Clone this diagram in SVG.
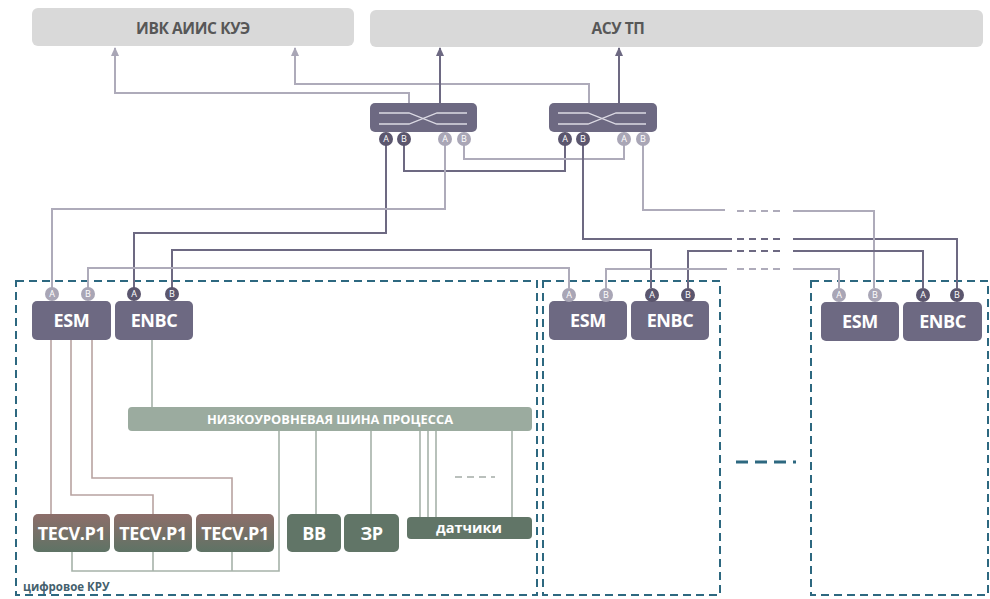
<svg xmlns="http://www.w3.org/2000/svg" width="990" height="599" viewBox="0 0 990 599">
<defs>
<marker id="arL" viewBox="0 0 10 10" refX="9" refY="5" markerWidth="9" markerHeight="9" markerUnits="userSpaceOnUse" orient="auto"><path d="M0,0.5 L10,5 L0,9.5 z" fill="#a9a6b6"/></marker>
<marker id="arD" viewBox="0 0 10 10" refX="9" refY="5" markerWidth="9" markerHeight="9" markerUnits="userSpaceOnUse" orient="auto"><path d="M0,0.5 L10,5 L0,9.5 z" fill="#6d6982"/></marker>
<linearGradient id="gT" x1="0" y1="0" x2="0" y2="1"><stop offset="0" stop-color="#8d6e6a"/><stop offset="1" stop-color="#5e7365"/></linearGradient>
<style>
text{font-family:"Open Sans","Liberation Sans",sans-serif;font-weight:bold;text-anchor:middle}
.hdr{fill:#d9d9d9}
.hdrt{fill:#575757;font-size:15.5px;letter-spacing:-0.4px}
.dev{fill:#6d6982}
.devt{fill:#ffffff;font-size:18px;letter-spacing:-0.4px}
.pd{fill:#5b566e}
.pl{fill:#a9a6b6}
.pt{fill:#ffffff;font-size:9px;font-weight:normal}
.sw{fill:none;stroke:#dcdae4;stroke-width:1.3}
.grn{fill:#617567}
.bus{fill:#9bab9f}
.box{fill:none;stroke:#2d6880;stroke-width:2;stroke-dasharray:8 5}
.d{fill:none;stroke:#6d6982;stroke-width:2}
.l{fill:none;stroke:#aeabba;stroke-width:2}
.dd{fill:none;stroke:#6d6982;stroke-width:2;stroke-dasharray:7 5}
.ld{fill:none;stroke:#aeabba;stroke-width:2;stroke-dasharray:7 5}
.r{fill:none;stroke:#b8a3a1;stroke-width:1.6}
.g{fill:none;stroke:#a6b2a9;stroke-width:1.6}
</style>
</defs>
<rect width="990" height="599" fill="#ffffff"/>

<g id="containers">
<rect class="box" x="16" y="281" width="521" height="314"/>
<rect class="box" x="543" y="281" width="177" height="314"/>
<rect class="box" x="811" y="281" width="177" height="314"/>
<text x="23" y="591" style="text-anchor:start;font-size:11.5px;fill:#44606d">цифровое КРУ</text>
<path d="M736,462 H796" fill="none" stroke="#2d6880" stroke-width="3" stroke-dasharray="12 7"/>
</g>

<g id="connectors">
<path class="l" d="M409,103 V93 H115 V48" marker-end="url(#arL)"/>
<path class="l" d="M589,103 V84 H295 V48" marker-end="url(#arL)"/>
<path class="d" d="M440,103 V48" marker-end="url(#arD)"/>
<path class="d" d="M619,103 V48" marker-end="url(#arD)"/>
<path class="d" d="M404,145 V171 H565 V145"/>
<path class="l" d="M464,145 V159 H624 V145"/>
<path class="d" d="M386,145 V233 H134 V288"/>
<path class="l" d="M445,145 V209 H52 V288"/>
<path class="d" d="M583,145 V239 H732"/>
<path class="dd" d="M737,239 H782"/>
<path class="d" d="M793,239 H957 V288"/>
<path class="l" d="M643,145 V210 H725"/>
<path class="ld" d="M737,211 H782"/>
<path class="l" d="M793,211 H874 V288"/>
<path class="d" d="M172,288 V250 H651 V288"/>
<path class="d" d="M688,288 V251 H732"/>
<path class="dd" d="M737,251 H782"/>
<path class="d" d="M793,251 H923 V288"/>
<path class="l" d="M88,288 V268 H569 V288"/>
<path class="l" d="M606,288 V269 H727"/>
<path class="ld" d="M737,269 H782"/>
<path class="l" d="M793,269 H839 V288"/>
<path class="r" d="M51,340 V514"/>
<path class="r" d="M71,340 V495 H153 V514"/>
<path class="r" d="M92,340 V478 H232 V514"/>
<path class="g" d="M152,340 V407"/>
<path class="g" d="M279,431 V571 H72 V552"/>
<path class="g" d="M153,552 V571"/>
<path class="g" d="M232,552 V571"/>
<path class="g" d="M316,431 V514"/>
<path class="g" d="M371,431 V514"/>
<path class="g" d="M420,431 V517"/>
<path class="g" d="M428,431 V517"/>
<path class="g" d="M436,431 V517"/>
<path class="g" d="M512,431 V517"/>
<path d="M455,477 H495" fill="none" stroke="#a4aca7" stroke-width="1.5" stroke-dasharray="7 5"/>
</g>

<g id="ivk"><rect class="hdr" x="32" y="8" width="322" height="38" rx="6"/><text class="hdrt" x="193" y="34">ИВК АИИС КУЭ</text></g>
<g id="asutp"><rect class="hdr" x="370" y="10" width="613" height="37" rx="6"/><text class="hdrt" x="618" y="34">АСУ ТП</text></g>

<g id="switch1">
<rect class="dev" x="370" y="103" width="107" height="29" rx="5"/>
<path class="sw" d="M379,113 H409 L437,124 H467"/><path class="sw" d="M379,124 H409 L437,113 H467"/>
<circle class="pd" cx="386" cy="139" r="7"/><text class="pt" x="386" y="142.2">A</text>
<circle class="pd" cx="404" cy="139" r="7"/><text class="pt" x="404" y="142.2">B</text>
<circle class="pl" cx="445" cy="139" r="7"/><text class="pt" x="445" y="142.2">A</text>
<circle class="pl" cx="464" cy="139" r="7"/><text class="pt" x="464" y="142.2">B</text>
</g>
<g id="switch2">
<rect class="dev" x="549" y="103" width="108" height="29" rx="5"/>
<path class="sw" d="M558,113 H588 L616,124 H646"/><path class="sw" d="M558,124 H588 L616,113 H646"/>
<circle class="pd" cx="565" cy="139" r="7"/><text class="pt" x="565" y="142.2">A</text>
<circle class="pd" cx="583" cy="139" r="7"/><text class="pt" x="583" y="142.2">B</text>
<circle class="pl" cx="624" cy="139" r="7"/><text class="pt" x="624" y="142.2">A</text>
<circle class="pl" cx="643" cy="139" r="7"/><text class="pt" x="643" y="142.2">B</text>
</g>

<g id="esm1">
<rect class="dev" x="32" y="301" width="79" height="39" rx="5"/><text class="devt" x="71.5" y="327">ESM</text>
<circle class="pl" cx="52" cy="294" r="7"/><text class="pt" x="52" y="297.2">A</text>
<circle class="pl" cx="88" cy="294" r="7"/><text class="pt" x="88" y="297.2">B</text>
</g>
<g id="enbc1">
<rect class="dev" x="115" y="301" width="78" height="39" rx="5"/><text class="devt" x="154" y="327">ENBC</text>
<circle class="pd" cx="134" cy="294" r="7"/><text class="pt" x="134" y="297.2">A</text>
<circle class="pd" cx="172" cy="294" r="7"/><text class="pt" x="172" y="297.2">B</text>
</g>
<g id="esm2">
<rect class="dev" x="549" y="301" width="78" height="39" rx="5"/><text class="devt" x="588" y="327">ESM</text>
<circle class="pl" cx="569" cy="295" r="7"/><text class="pt" x="569" y="298.2">A</text>
<circle class="pl" cx="606" cy="295" r="7"/><text class="pt" x="606" y="298.2">B</text>
</g>
<g id="enbc2">
<rect class="dev" x="631" y="301" width="78" height="39" rx="5"/><text class="devt" x="670" y="327">ENBC</text>
<circle class="pd" cx="652" cy="295" r="7"/><text class="pt" x="652" y="298.2">A</text>
<circle class="pd" cx="688" cy="295" r="7"/><text class="pt" x="688" y="298.2">B</text>
</g>
<g id="esm3">
<rect class="dev" x="821" y="302" width="78" height="39" rx="5"/><text class="devt" x="860" y="328">ESM</text>
<circle class="pl" cx="839" cy="295" r="7"/><text class="pt" x="839" y="298.2">A</text>
<circle class="pl" cx="875" cy="295" r="7"/><text class="pt" x="875" y="298.2">B</text>
</g>
<g id="enbc3">
<rect class="dev" x="903" y="302" width="79" height="39" rx="5"/><text class="devt" x="942.5" y="328">ENBC</text>
<circle class="pd" cx="923" cy="295" r="7"/><text class="pt" x="923" y="298.2">A</text>
<circle class="pd" cx="957" cy="295" r="7"/><text class="pt" x="957" y="298.2">B</text>
</g>

<g id="bus"><rect class="bus" x="128" y="407" width="404" height="24" rx="4"/><text x="330" y="424" style="fill:#ffffff;font-size:12.5px" textLength="246" lengthAdjust="spacingAndGlyphs">НИЗКОУРОВНЕВАЯ ШИНА ПРОЦЕССА</text></g>

<g id="tecv1"><rect x="33" y="514" width="77" height="38" rx="5" fill="url(#gT)"/><text class="devt" x="71.5" y="540">TECV.P1</text></g>
<g id="tecv2"><rect x="114" y="514" width="78" height="38" rx="5" fill="url(#gT)"/><text class="devt" x="153" y="540">TECV.P1</text></g>
<g id="tecv3"><rect x="196" y="514" width="78" height="38" rx="5" fill="url(#gT)"/><text class="devt" x="235" y="540">TECV.P1</text></g>
<g id="vv"><rect class="grn" x="287" y="514" width="54" height="38" rx="5"/><text class="devt" x="314" y="540">ВВ</text></g>
<g id="zr"><rect class="grn" x="344" y="514" width="55" height="38" rx="5"/><text class="devt" x="371.5" y="540">ЗР</text></g>
<g id="sensors"><rect class="grn" x="407" y="517" width="125" height="22" rx="4"/><text x="469" y="533" style="fill:#ffffff;font-size:14.5px">датчики</text></g>
</svg>
